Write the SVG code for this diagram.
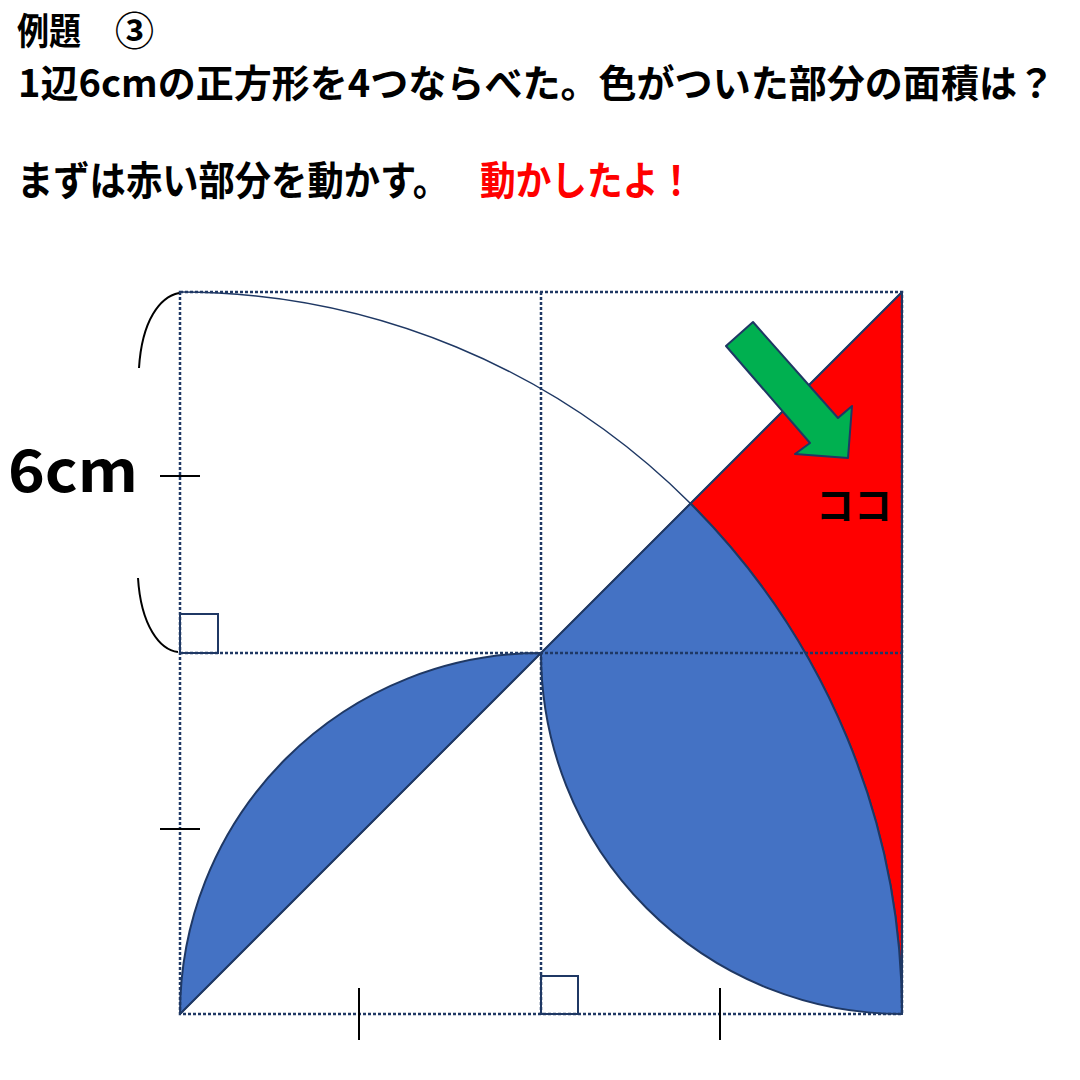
<svg xmlns="http://www.w3.org/2000/svg" width="1080" height="1080" viewBox="0 0 1080 1080">
<style>
.t{font-family:"Noto Sans CJK JP","Noto Sans",sans-serif;font-weight:bold;fill:#000}
.dot{fill:none;stroke:#1F3864;stroke-width:2.5;stroke-dasharray:3 2}
.edge{stroke:#1F3864;stroke-width:2;stroke-linejoin:round}
.tick{stroke:#000;stroke-width:2;fill:none}
</style>
<rect width="1080" height="1080" fill="#fff"/>
<g id="title">
<text class="t" x="17" y="45" font-size="37" textLength="64" lengthAdjust="spacingAndGlyphs">例題</text>
<text class="t" x="115" y="45" font-size="39">③</text>
<text class="t" x="18" y="97" font-size="38" textLength="1037" lengthAdjust="spacingAndGlyphs">1辺6cmの正方形を4つならべた。色がついた部分の面積は？</text>
<text class="t" x="17" y="195" font-size="40" textLength="432" lengthAdjust="spacingAndGlyphs">まずは赤い部分を動かす。</text>
<text class="t" x="480" y="195" font-size="40" style="fill:#FF0000" textLength="214" lengthAdjust="spacingAndGlyphs">動かしたよ！</text>
</g>
<g id="shapes">
<path id="red" class="edge" fill="#FF0000" d="M690.5 503.5 L902 292 L902 1014 A722 722 0 0 0 690.5 503.5 Z"/>
<path id="blue-right" class="edge" fill="#4472C4" d="M541 653 L690.5 503.5 A722 722 0 0 1 902 1014 A361 361 0 0 1 541 653 Z"/>
<path id="blue-left" class="edge" fill="#4472C4" d="M180 1014 L541 653 A361 361 0 0 0 180 1014 Z"/>
<path id="arc-top" fill="none" stroke="#1F3864" stroke-width="1.5" d="M180 292 A722 722 0 0 1 690.5 503.5"/>
</g>
<g id="grid">
<rect class="dot" x="180" y="292" width="722" height="722"/>
<line class="dot" x1="541" y1="292" x2="541" y2="1014"/>
<line class="dot" x1="180" y1="653" x2="902" y2="653"/>
<line stroke="#1F3864" stroke-width="1.5" x1="180" y1="1014" x2="902" y2="292"/>
<rect fill="none" stroke="#1F3864" stroke-width="2" x="180" y="614" width="38" height="39"/>
<rect fill="none" stroke="#1F3864" stroke-width="2" x="541" y="976" width="37" height="38"/>
</g>
<g id="marks">
<path class="tick" stroke-width="3" d="M179 293 C160 297 142 320 139 368"/>
<path class="tick" stroke-width="3" d="M138 578 C141 626 160 650 178 652"/>
<line class="tick" x1="160" y1="476" x2="200" y2="476"/>
<line class="tick" x1="160" y1="829" x2="200" y2="829"/>
<line class="tick" x1="359" y1="988" x2="359" y2="1040"/>
<line class="tick" x1="720" y1="988" x2="720" y2="1040"/>
<text class="t" x="8" y="492" font-size="58" textLength="130" lengthAdjust="spacingAndGlyphs">6cm</text>
</g>
<g id="arrow">
<polygon fill="#00B050" stroke="#1F3864" stroke-width="2" stroke-linejoin="round" points="726,346 753,322 838,418 852,406 848,458 795,454 810,443"/>
</g>
<g id="label">
<text class="t" x="816" y="519" font-size="38" textLength="76" lengthAdjust="spacingAndGlyphs">ココ</text>
</g>
</svg>
